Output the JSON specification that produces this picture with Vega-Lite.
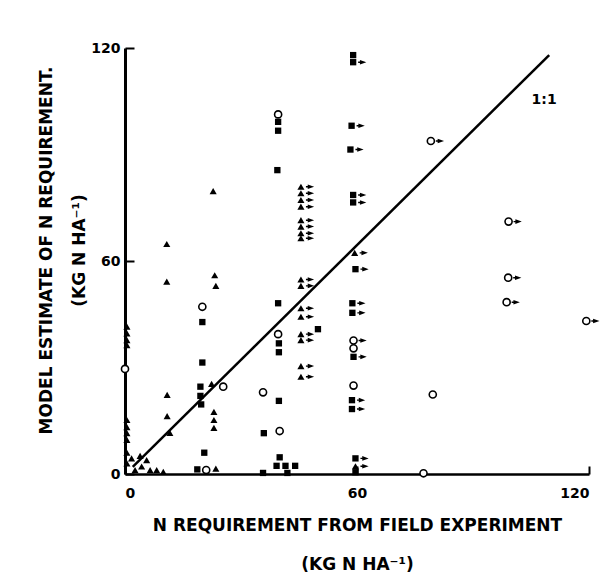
{
  "$schema": "https://vega.github.io/schema/vega-lite/v6.json",
  "width": 464,
  "height": 426,
  "autosize": {"type": "none"},
  "padding": {"left": 125, "top": 48, "right": 19, "bottom": 114},
  "background": "white",
  "config": {
    "view": {"stroke": null},
    "axis": {"grid": false, "domainColor": "black", "tickColor": "black", "labelColor": "black", "titleColor": "black",
      "labelFont": "DejaVu Sans", "labelFontWeight": "bold", "labelFontSize": 14,
      "titleFont": "DejaVu Sans", "titleFontWeight": "bold", "titleFontSize": 17}
  },
  "datasets": {
    "pts": [
      {"x": 0.5, "y": 41.5, "type": "tri", "arrow": 0},
      {"x": 0.5, "y": 39.6, "type": "tri", "arrow": 0},
      {"x": 0.5, "y": 37.7, "type": "tri", "arrow": 0},
      {"x": 0.5, "y": 36.3, "type": "tri", "arrow": 0},
      {"x": 0.5, "y": 15.2, "type": "tri", "arrow": 0},
      {"x": 0.5, "y": 13.2, "type": "tri", "arrow": 0},
      {"x": 0.5, "y": 11.5, "type": "tri", "arrow": 0},
      {"x": 0.5, "y": 9.6, "type": "tri", "arrow": 0},
      {"x": 0.5, "y": 6, "type": "tri", "arrow": 0},
      {"x": 0.5, "y": 3, "type": "tri", "arrow": 0},
      {"x": 1.7, "y": 4.4, "type": "tri", "arrow": 0},
      {"x": 3.9, "y": 5.1, "type": "tri", "arrow": 0},
      {"x": 5.6, "y": 3.9, "type": "tri", "arrow": 0},
      {"x": 4.3, "y": 2.1, "type": "tri", "arrow": 0},
      {"x": 6.5, "y": 1.1, "type": "tri", "arrow": 0},
      {"x": 8.2, "y": 1.1, "type": "tri", "arrow": 0},
      {"x": 9.9, "y": 0.6, "type": "tri", "arrow": 0},
      {"x": 2.6, "y": 1.1, "type": "tri", "arrow": 0},
      {"x": 10.8, "y": 64.8, "type": "tri", "arrow": 0},
      {"x": 10.8, "y": 54.2, "type": "tri", "arrow": 0},
      {"x": 10.9, "y": 22.3, "type": "tri", "arrow": 0},
      {"x": 10.9, "y": 16.3, "type": "tri", "arrow": 0},
      {"x": 11.6, "y": 11.6, "type": "tri", "arrow": 0},
      {"x": 22.8, "y": 79.7, "type": "tri", "arrow": 0},
      {"x": 23.2, "y": 56, "type": "tri", "arrow": 0},
      {"x": 23.5, "y": 53, "type": "tri", "arrow": 0},
      {"x": 22.4, "y": 25.4, "type": "tri", "arrow": 0},
      {"x": 23, "y": 17.5, "type": "tri", "arrow": 0},
      {"x": 23, "y": 15.2, "type": "tri", "arrow": 0},
      {"x": 23, "y": 13, "type": "tri", "arrow": 0},
      {"x": 23.5, "y": 1.5, "type": "tri", "arrow": 0},
      {"x": 45.5, "y": 80.9, "type": "tri", "arrow": 1},
      {"x": 45.5, "y": 79.1, "type": "tri", "arrow": 1},
      {"x": 45.5, "y": 77.2, "type": "tri", "arrow": 1},
      {"x": 45.5, "y": 75.3, "type": "tri", "arrow": 1},
      {"x": 45.5, "y": 71.5, "type": "tri", "arrow": 1},
      {"x": 45.5, "y": 69.7, "type": "tri", "arrow": 1},
      {"x": 45.5, "y": 67.8, "type": "tri", "arrow": 1},
      {"x": 45.5, "y": 66.4, "type": "tri", "arrow": 1},
      {"x": 45.5, "y": 54.8, "type": "tri", "arrow": 1},
      {"x": 45.5, "y": 53, "type": "tri", "arrow": 1},
      {"x": 45.5, "y": 46.7, "type": "tri", "arrow": 1},
      {"x": 45.5, "y": 44.3, "type": "tri", "arrow": 1},
      {"x": 45.5, "y": 39.4, "type": "tri", "arrow": 1},
      {"x": 45.5, "y": 37.7, "type": "tri", "arrow": 1},
      {"x": 45.5, "y": 30.4, "type": "tri", "arrow": 1},
      {"x": 45.5, "y": 27.4, "type": "tri", "arrow": 1},
      {"x": 59.4, "y": 62.3, "type": "tri", "arrow": 1},
      {"x": 59.6, "y": 2.2, "type": "tri", "arrow": 1},
      {"x": 20, "y": 42.8, "type": "sq", "arrow": 0},
      {"x": 20, "y": 31.4, "type": "sq", "arrow": 0},
      {"x": 19.5, "y": 24.6, "type": "sq", "arrow": 0},
      {"x": 19.5, "y": 22, "type": "sq", "arrow": 0},
      {"x": 19.7, "y": 19.6, "type": "sq", "arrow": 0},
      {"x": 20.5, "y": 6, "type": "sq", "arrow": 0},
      {"x": 18.7, "y": 1.3, "type": "sq", "arrow": 0},
      {"x": 39.6, "y": 99.2, "type": "sq", "arrow": 0},
      {"x": 39.6, "y": 96.7, "type": "sq", "arrow": 0},
      {"x": 39.4, "y": 85.6, "type": "sq", "arrow": 0},
      {"x": 39.6, "y": 48.1, "type": "sq", "arrow": 0},
      {"x": 39.8, "y": 36.8, "type": "sq", "arrow": 0},
      {"x": 39.8, "y": 34.3, "type": "sq", "arrow": 0},
      {"x": 39.8, "y": 20.6, "type": "sq", "arrow": 0},
      {"x": 35.9, "y": 11.5, "type": "sq", "arrow": 0},
      {"x": 40, "y": 4.7, "type": "sq", "arrow": 0},
      {"x": 39.2, "y": 2.3, "type": "sq", "arrow": 0},
      {"x": 41.5, "y": 2.3, "type": "sq", "arrow": 0},
      {"x": 44, "y": 2.3, "type": "sq", "arrow": 0},
      {"x": 35.7, "y": 0.3, "type": "sq", "arrow": 0},
      {"x": 42, "y": 0.3, "type": "sq", "arrow": 0},
      {"x": 49.9, "y": 40.8, "type": "sq", "arrow": 0},
      {"x": 59, "y": 118, "type": "sq", "arrow": 0},
      {"x": 59, "y": 116, "type": "sq", "arrow": 1},
      {"x": 58.6, "y": 98.1, "type": "sq", "arrow": 1},
      {"x": 58.3, "y": 91.4, "type": "sq", "arrow": 1},
      {"x": 59, "y": 78.6, "type": "sq", "arrow": 1},
      {"x": 59, "y": 76.5, "type": "sq", "arrow": 1},
      {"x": 59.6, "y": 57.7, "type": "sq", "arrow": 1},
      {"x": 58.8, "y": 48.1, "type": "sq", "arrow": 1},
      {"x": 58.8, "y": 45.4, "type": "sq", "arrow": 1},
      {"x": 59.1, "y": 33, "type": "sq", "arrow": 1},
      {"x": 58.7, "y": 20.8, "type": "sq", "arrow": 1},
      {"x": 58.7, "y": 18.3, "type": "sq", "arrow": 1},
      {"x": 59.6, "y": 4.4, "type": "sq", "arrow": 1},
      {"x": 59.6, "y": 0.5, "type": "sq", "arrow": 0},
      {"x": 0, "y": 29.6, "type": "circ", "arrow": 0},
      {"x": 20, "y": 47.1, "type": "circ", "arrow": 0},
      {"x": 25.4, "y": 24.6, "type": "circ", "arrow": 0},
      {"x": 21, "y": 1.1, "type": "circ", "arrow": 0},
      {"x": 39.6, "y": 101.3, "type": "circ", "arrow": 0},
      {"x": 39.6, "y": 39.4, "type": "circ", "arrow": 0},
      {"x": 35.7, "y": 23, "type": "circ", "arrow": 0},
      {"x": 40, "y": 12.1, "type": "circ", "arrow": 0},
      {"x": 59.1, "y": 37.6, "type": "circ", "arrow": 1},
      {"x": 59.1, "y": 35.4, "type": "circ", "arrow": 0},
      {"x": 59.1, "y": 24.9, "type": "circ", "arrow": 0},
      {"x": 79.1, "y": 93.8, "type": "circ", "arrow": 1},
      {"x": 79.6, "y": 22.4, "type": "circ", "arrow": 0},
      {"x": 77.2, "y": 0.2, "type": "circ", "arrow": 0},
      {"x": 99.2, "y": 71.1, "type": "circ", "arrow": 1},
      {"x": 99.1, "y": 55.3, "type": "circ", "arrow": 1},
      {"x": 98.7, "y": 48.4, "type": "circ", "arrow": 1},
      {"x": 119.3, "y": 43.1, "type": "circ", "arrow": 1}
    ],
    "line": [
      {"x": 2, "y": 2},
      {"x": 109.7, "y": 118}
    ],
    "lab": [
      {"x": 108.4, "y": 105.4, "text": "1:1"}
    ]
  },
  "encoding": {
    "x": {"field": "x", "type": "quantitative", "scale": {"domain": [0, 120], "nice": false, "zero": false},
      "axis": {"values": [0, 60, 120], "domainWidth": 2.5, "tickSize": -8, "tickWidth": 2, "labelPadding": 20,
        "title": ["N REQUIREMENT FROM FIELD EXPERIMENT", "(KG N HA⁻¹)"],
        "titleLineHeight": 39, "titleX": 232, "titleY": 43, "titleBaseline": "top", "titleAlign": "center"}},
    "y": {"field": "y", "type": "quantitative", "scale": {"domain": [0, 120], "nice": false, "zero": false},
      "axis": {"values": [0, 60, 120], "domainWidth": 3, "tickSize": -9, "tickWidth": 2, "labelPadding": 14,
        "title": ["MODEL ESTIMATE OF N REQUIREMENT.", "(KG N HA⁻¹)"],
        "titleAngle": -90, "titleLineHeight": 33, "titleX": -87, "titleY": 202, "titleBaseline": "top", "titleAlign": "center"}}
  },
  "layer": [
    {
      "data": {"name": "line"},
      "mark": {"type": "line", "color": "black", "strokeWidth": 2.5}
    },
    {
      "data": {"name": "pts"},
      "transform": [{"filter": "datum.type == 'tri'"}],
      "mark": {"type": "point", "shape": "triangle-up", "filled": true, "color": "black", "size": 50, "opacity": 1}
    },
    {
      "data": {"name": "pts"},
      "transform": [{"filter": "datum.type == 'sq'"}],
      "mark": {"type": "point", "shape": "square", "filled": true, "color": "black", "size": 40, "opacity": 1}
    },
    {
      "data": {"name": "pts"},
      "transform": [{"filter": "datum.type == 'circ'"}],
      "mark": {"type": "point", "shape": "circle", "filled": false, "fill": "white", "fillOpacity": 1, "stroke": "black", "strokeWidth": 1.6, "size": 50, "opacity": 1}
    },
    {
      "data": {"name": "pts"},
      "transform": [{"filter": "datum.arrow == 1"}],
      "mark": {"type": "point", "shape": "M0.5,-0.07L0.68,-0.07L0.68,-0.23L1.32,0L0.68,0.23L0.68,0.07L0.5,0.07Z", "filled": true, "color": "black", "size": 400, "opacity": 1}
    },
    {
      "data": {"name": "lab"},
      "mark": {"type": "text", "font": "DejaVu Sans", "fontWeight": "bold", "fontSize": 14, "color": "black"},
      "encoding": {"text": {"field": "text"}}
    }
  ]
}
